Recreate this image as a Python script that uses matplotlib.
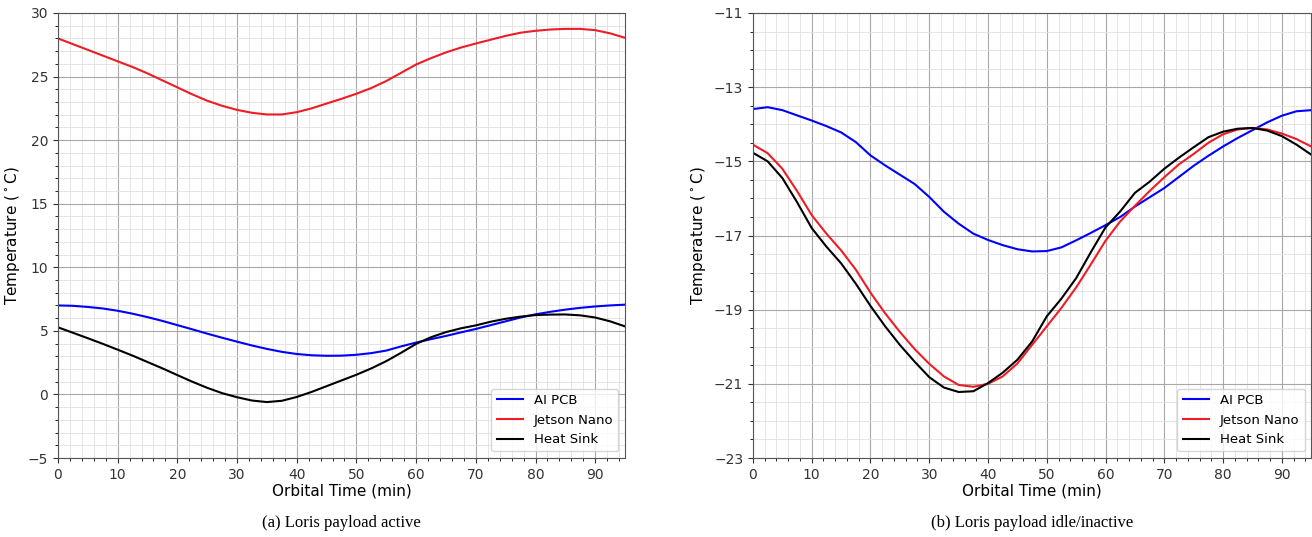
import matplotlib.pyplot as plt
from matplotlib.ticker import AutoMinorLocator

# orbital time (min), sampled every 2.5 min
time = [i * 2.5 for i in range(39)]

# (a) payload active
active_pcb = [7.0, 6.97, 6.88, 6.76, 6.58, 6.35, 6.08, 5.78, 5.45, 5.12,
              4.78, 4.46, 4.15, 3.85, 3.58, 3.35, 3.18, 3.08, 3.04, 3.05,
              3.12, 3.25, 3.45, 3.78, 4.08, 4.35, 4.6, 4.88, 5.15, 5.45,
              5.75, 6.05, 6.3, 6.5, 6.67, 6.81, 6.92, 7.0, 7.06]
active_jetson = [28.0, 27.55, 27.1, 26.65, 26.2, 25.75, 25.25, 24.7, 24.15, 23.6,
                 23.1, 22.7, 22.38, 22.15, 22.02, 22.02, 22.2, 22.5, 22.88, 23.25,
                 23.65, 24.1, 24.65, 25.3, 25.95, 26.45, 26.9, 27.28, 27.6, 27.9,
                 28.2, 28.45, 28.6, 28.7, 28.75, 28.75, 28.65, 28.4, 28.05]
active_sink = [5.28, 4.85, 4.42, 3.98, 3.52, 3.05, 2.55, 2.05, 1.52, 1.0,
               0.52, 0.1, -0.22, -0.48, -0.6, -0.5, -0.2, 0.2, 0.65, 1.1,
               1.55, 2.05, 2.62, 3.28, 3.98, 4.5, 4.9, 5.2, 5.43, 5.72,
               5.95, 6.12, 6.24, 6.28, 6.29, 6.22, 6.05, 5.75, 5.35]

# (b) payload idle/inactive
idle_pcb = [-13.59, -13.54, -13.62, -13.76, -13.9, -14.05, -14.22, -14.48, -14.84, -15.11,
            -15.36, -15.61, -15.96, -16.36, -16.68, -16.95, -17.12, -17.26, -17.37, -17.43,
            -17.42, -17.32, -17.13, -16.93, -16.72, -16.5, -16.22, -15.97, -15.72, -15.42,
            -15.12, -14.85, -14.6, -14.37, -14.16, -13.95, -13.77, -13.65, -13.62]
idle_jetson = [-14.55, -14.78, -15.2, -15.8, -16.45, -16.95, -17.4, -17.92, -18.54, -19.1,
               -19.6, -20.06, -20.46, -20.8, -21.03, -21.08, -21.0, -20.8, -20.45, -19.95,
               -19.45, -18.95, -18.4, -17.78, -17.14, -16.62, -16.2, -15.8, -15.43, -15.08,
               -14.8, -14.5, -14.27, -14.14, -14.1, -14.14, -14.25, -14.4, -14.6]
idle_sink = [-14.77, -15.0, -15.45, -16.1, -16.8, -17.3, -17.75, -18.3, -18.9, -19.45,
             -19.95, -20.4, -20.82, -21.1, -21.22, -21.2, -20.98, -20.7, -20.35, -19.86,
             -19.18, -18.7, -18.15, -17.45, -16.78, -16.35, -15.85, -15.55, -15.2, -14.9,
             -14.62, -14.35, -14.2, -14.12, -14.1, -14.17, -14.32, -14.55, -14.82]

labels = ["AI PCB", "Jetson Nano", "Heat Sink"]
colors = ["blue", "#ee1c25", "black"]

fig = plt.figure(figsize=(13.12, 5.37), dpi=100)
ax1 = fig.add_axes([0.0442, 0.1471, 0.4322, 0.8287])
ax2 = fig.add_axes([0.5739, 0.1471, 0.4255, 0.8287])

panels = [
    (ax1, [active_pcb, active_jetson, active_sink], (-5, 30), 5, "(a) Loris payload active"),
    (ax2, [idle_pcb, idle_jetson, idle_sink], (-23, -11), 2, "(b) Loris payload idle/inactive"),
]

for ax, series, ylim, ystep, caption in panels:
    for vals, lab, c in zip(series, labels, colors):
        ax.plot(time, vals, color=c, lw=1.5, label=lab)
    ax.set_xlim(0, 95)
    ax.set_ylim(*ylim)
    ax.set_xticks(range(0, 91, 10))
    ax.set_yticks(range(ylim[0], ylim[1] + 1, ystep))
    ax.xaxis.set_minor_locator(AutoMinorLocator())
    ax.yaxis.set_minor_locator(AutoMinorLocator())
    ax.grid(which="major", color="#a8a8a8", lw=0.8)
    ax.grid(which="minor", color="#e0e0e0", lw=0.6)
    ax.set_axisbelow(True)
    for sp in ax.spines.values():
        sp.set_color("#555555")
    ax.tick_params(labelsize=10, colors="#333333")
    ax.set_xlabel("Orbital Time (min)", fontsize=11, labelpad=1)
    ax.set_ylabel(r"Temperature ($^\circ$C)", fontsize=11)
    ax.legend(loc="lower right", fontsize=9.5)
    pos = ax.get_position()
    fig.text(pos.x0 + pos.width / 2, 0.012, caption, ha="center", va="bottom",
             fontsize=12, family="Liberation Serif")

plt.savefig("out.png", dpi=100)
